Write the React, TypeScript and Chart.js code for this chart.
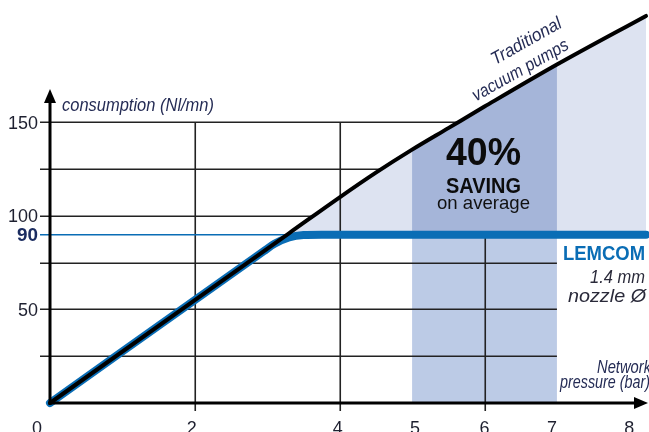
import { useEffect, useRef } from "react";
import { Chart, registerables } from "chart.js";

Chart.register(...registerables);

// ---- data ----
const tradX = [0, 2, 3.3, 4, 4.5, 5, 5.5, 6, 7, 8.23];
const tradY = [0, 55, 90.75, 110, 123.2, 135.5, 147, 158.5, 181, 207];
const lemX = [0, 2.95, 3.1, 3.3, 3.5, 3.75, 8.23];
const lemY = [0, 81.1, 85.1, 88.5, 89.8, 90, 90];
const lemLevel = 90;
const bandRange = [5, 7];
const gridYValues = [25, 50, 75, 100, 125, 150];
const gridXValues = [2, 4, 6];
const yTickValues = [50, 100, 150];
const yTickLabels = ["50", "100", "150"];
const xTickValues = [0, 2, 4, 5, 6, 7, 8];
const xTickLabels = ["0", "2", "4", "5", "6", "7", "8"];

const FONT = '"Liberation Sans Narrow", "Liberation Sans", Arial, sans-serif';
const BLUE = "#0a6db5";
const NAVY = "#252c55";

function crossX(xs: number[], ys: number[], v: number): number {
  for (let i = 0; i < xs.length - 1; i++) {
    if (ys[i] <= v && ys[i + 1] >= v) {
      return xs[i] + ((v - ys[i]) / (ys[i + 1] - ys[i])) * (xs[i + 1] - xs[i]);
    }
  }
  return xs[xs.length - 1];
}

type TOpts = {
  font: string;
  color: string;
  align?: CanvasTextAlign;
  baseline?: CanvasTextBaseline;
  width?: number;
  rotate?: number;
};

function txt(ctx: CanvasRenderingContext2D, s: string, x: number, y: number, o: TOpts) {
  ctx.save();
  ctx.font = o.font;
  ctx.fillStyle = o.color;
  ctx.textAlign = o.align || "left";
  ctx.textBaseline = o.baseline || "alphabetic";
  const w = ctx.measureText(s).width;
  const sx = o.width ? o.width / w : 1;
  ctx.translate(x, y);
  if (o.rotate) ctx.rotate(o.rotate);
  ctx.scale(sx, 1);
  ctx.fillText(s, 0, 0);
  ctx.restore();
}

const pts = (xs: number[], ys: number[]) => xs.map((x, i) => ({ x, y: ys[i] }));

export default function App() {
  const ref = useRef<HTMLCanvasElement | null>(null);

  useEffect(() => {
    if (!ref.current) return;
    const tradPts = pts(tradX, tradY);
    const lemPts = pts(lemX, lemY);
    const bandUpper = tradPts.filter((p) => p.x >= bandRange[0] && p.x <= bandRange[1]);
    const bandLower = [
      { x: bandRange[0], y: lemLevel },
      { x: bandRange[1], y: lemLevel },
    ];

    const gridPlugin = {
      id: "customGrid",
      afterDatasetDraw(chart: any, args: any) {
        if (args.index !== 3) return;
        const ctx: CanvasRenderingContext2D = chart.ctx;
        const xs = chart.scales.x;
        const ys = chart.scales.y;
        ctx.save();
        ctx.strokeStyle = "#222";
        ctx.lineWidth = 1.6;
        const xEnd7 = xs.getPixelForValue(bandRange[1]);
        gridYValues.forEach((v) => {
          let xe = xEnd7;
          if (v > lemLevel) {
            xe = Math.min(xEnd7, xs.getPixelForValue(crossX(tradX, tradY, v)));
          }
          const py = Math.round(ys.getPixelForValue(v)) + 0.25;
          ctx.beginPath();
          ctx.moveTo(40, py);
          ctx.lineTo(xe, py);
          ctx.stroke();
        });
        const top = ys.getPixelForValue(gridYValues[gridYValues.length - 1]);
        gridXValues.forEach((v) => {
          const px = Math.round(xs.getPixelForValue(v)) + 0.25;
          ctx.beginPath();
          ctx.moveTo(px, top);
          ctx.lineTo(px, ys.getPixelForValue(0) + 8);
          ctx.stroke();
        });
        // thin blue level line
        ctx.strokeStyle = BLUE;
        ctx.lineWidth = 1.6;
        const py = ys.getPixelForValue(lemLevel);
        ctx.beginPath();
        ctx.moveTo(40, py);
        ctx.lineTo(xs.getPixelForValue(3.5), py);
        ctx.stroke();
        ctx.restore();
      },
      afterDatasetsDraw(chart: any) {
        const ctx: CanvasRenderingContext2D = chart.ctx;
        const xs = chart.scales.x;
        const ys = chart.scales.y;
        const x0 = xs.getPixelForValue(0);
        const y0 = ys.getPixelForValue(0);
        ctx.save();
        ctx.strokeStyle = "#000";
        ctx.fillStyle = "#000";
        ctx.lineWidth = 3;
        // y axis
        ctx.beginPath();
        ctx.moveTo(x0, y0 + 1.5);
        ctx.lineTo(x0, 100);
        ctx.stroke();
        ctx.beginPath();
        ctx.moveTo(x0, 89);
        ctx.lineTo(x0 - 6, 103);
        ctx.lineTo(x0 + 6, 103);
        ctx.closePath();
        ctx.fill();
        // x axis
        ctx.beginPath();
        ctx.moveTo(x0 - 1.5, y0);
        ctx.lineTo(636, y0);
        ctx.stroke();
        ctx.beginPath();
        ctx.moveTo(648, y0);
        ctx.lineTo(634, y0 - 6);
        ctx.lineTo(634, y0 + 6);
        ctx.closePath();
        ctx.fill();
        ctx.restore();

        // y tick labels
        yTickValues.forEach((v, i) => {
          const s = yTickLabels[i];
          txt(ctx, s, 38, ys.getPixelForValue(v) + 1, {
            font: `19px ${FONT}`,
            color: "#1e2030",
            align: "right",
            baseline: "middle",
            width: 10 * s.length,
          });
        });
        txt(ctx, String(lemLevel), 38, ys.getPixelForValue(lemLevel) + 1, {
          font: `bold 19px ${FONT}`,
          color: "#1b2c60",
          align: "right",
          baseline: "middle",
          width: 21,
        });
        // x tick labels
        const xOff: Record<string, number> = { "0": -13, "5": 3, "7": -5, "2": -3, "4": -2 };
        xTickValues.forEach((v, i) => {
          const s = xTickLabels[i];
          txt(ctx, s, xs.getPixelForValue(v) + (xOff[s] || 0), 434, {
            font: `19px ${FONT}`,
            color: "#1e2030",
            align: "center",
            width: 10 * s.length,
          });
        });

        // axis titles
        txt(ctx, "consumption (Nl/mn)", 62, 111, {
          font: `italic 18px ${FONT}`,
          color: NAVY,
          width: 152,
        });
        txt(ctx, "Network", 651, 373, {
          font: `italic 19px ${FONT}`,
          color: NAVY,
          align: "right",
          width: 54,
        });
        txt(ctx, "pressure (bar)", 650, 388, {
          font: `italic 19px ${FONT}`,
          color: NAVY,
          align: "right",
          width: 90,
        });

        // curve label
        const ang = -0.515;
        txt(ctx, "Traditional", 529, 46, {
          font: `italic 18px ${FONT}`,
          color: NAVY,
          align: "center",
          width: 78,
          rotate: ang,
        });
        txt(ctx, "vacuum pumps", 523, 75, {
          font: `italic 18px ${FONT}`,
          color: NAVY,
          align: "center",
          width: 108,
          rotate: ang,
        });

        // saving text
        const cx = xs.getPixelForValue(6) - 1;
        txt(ctx, "40%", cx, 165, { font: `bold 38px ${FONT}`, color: "#0c0c0c", align: "center", width: 75 });
        txt(ctx, "SAVING", cx, 193, { font: `bold 22px ${FONT}`, color: "#0c0c0c", align: "center", width: 75 });
        txt(ctx, "on average", cx, 209, { font: `19px ${FONT}`, color: "#111", align: "center", width: 93 });

        // LEMCOM labels
        txt(ctx, "LEMCOM", 645, 260, { font: `bold 21px ${FONT}`, color: BLUE, align: "right", width: 82 });
        txt(ctx, "1.4 mm", 645, 283, { font: `italic 18px ${FONT}`, color: "#2a2a3a", align: "right", width: 55 });
        txt(ctx, "nozzle Ø", 646, 302, { font: `italic 19px ${FONT}`, color: "#2a2a3a", align: "right", width: 78 });
      },
    };

    const chart = new Chart(ref.current, {
      type: "line",
      data: {
        datasets: [
          {
            label: "Traditional vacuum pumps",
            data: tradPts,
            borderColor: "#000",
            borderWidth: 4,
            borderCapStyle: "round",
            borderJoinStyle: "round",
            cubicInterpolationMode: "monotone",
            pointRadius: 0,
            fill: false,
            order: 0,
            clip: false as any,
          },
          {
            label: "LEMCOM",
            data: lemPts,
            borderColor: BLUE,
            borderWidth: 8,
            borderCapStyle: "round",
            borderJoinStyle: "round",
            cubicInterpolationMode: "monotone",
            pointRadius: 0,
            fill: false,
            order: 1,
            clip: false as any,
          },
          {
            label: "band upper",
            data: bandUpper,
            borderColor: "rgba(0,0,0,0)",
            borderWidth: 0,
            backgroundColor: "#a5b5d9",
            cubicInterpolationMode: "monotone",
            pointRadius: 0,
            fill: { value: lemLevel } as any,
            order: 2,
          },
          {
            label: "band lower",
            data: bandLower,
            borderColor: "rgba(0,0,0,0)",
            borderWidth: 0,
            backgroundColor: "#bccbe6",
            pointRadius: 0,
            fill: "origin",
            order: 3,
          },
          {
            label: "saving",
            data: tradPts,
            borderColor: "rgba(0,0,0,0)",
            borderWidth: 0,
            cubicInterpolationMode: "monotone",
            pointRadius: 0,
            fill: { target: 1, above: "#dde3f1", below: "rgba(0,0,0,0)" } as any,
            order: 4,
          },
        ],
      },
      options: {
        responsive: false,
        animation: false,
        devicePixelRatio: 1,
        layout: { padding: { left: 50, right: 3, top: 0, bottom: 29 } },
        scales: {
          x: { type: "linear", min: 0, max: 8.23, display: false },
          y: { type: "linear", min: 0, max: 215.5, display: false },
        },
        plugins: {
          legend: { display: false },
          tooltip: { enabled: false },
        },
      },
      plugins: [gridPlugin],
    });
    return () => chart.destroy();
  }, []);

  return (
    <div style={{ position: "fixed", left: 0, top: 0, width: 649, height: 432, background: "#fff" }}>
      <canvas ref={ref} width={649} height={432} style={{ display: "block", width: 649, height: 432 }} />
    </div>
  );
}
